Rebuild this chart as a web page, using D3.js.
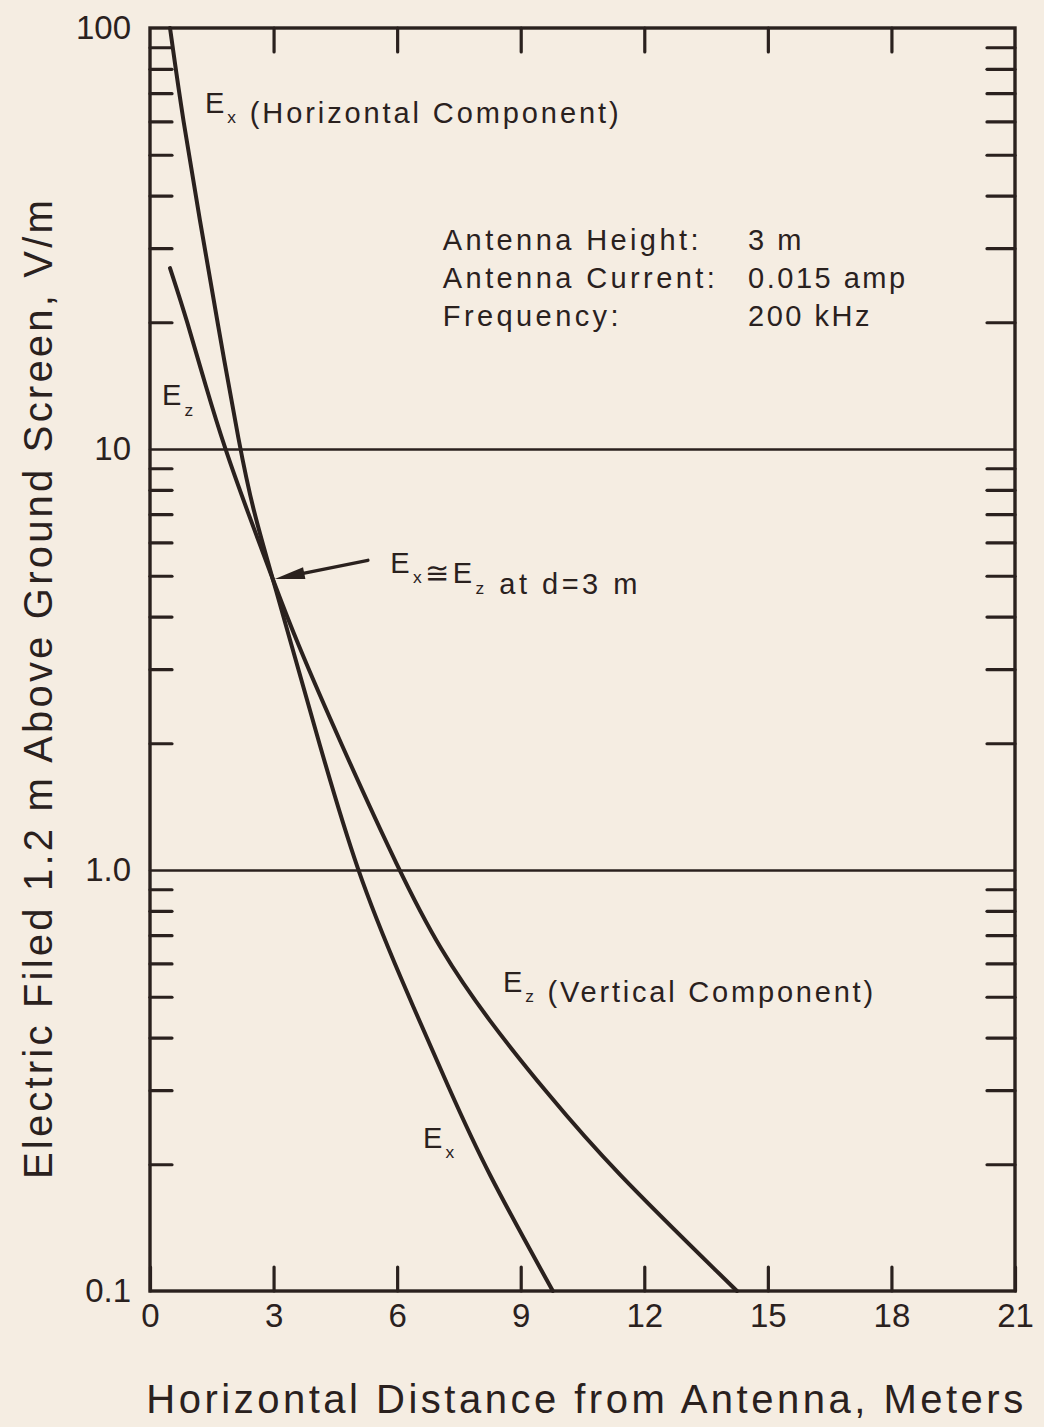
<!DOCTYPE html>
<html><head><meta charset="utf-8">
<script src="https://cdn.jsdelivr.net/npm/d3@7"></script>
<style>
html,body{margin:0;padding:0;background:#f5ede2;}
svg{display:block;}
text{font-family:"Liberation Sans", Arial, Helvetica, sans-serif; fill:#2a211e;}
</style></head><body>
<svg id="chart" width="1044" height="1427"></svg>
<script>
// ---- data ----
const exDistance = [0.486, 0.80, 1.21, 1.63, 2.185, 2.50, 2.99, 3.40, 4.08, 5.03, 6.07, 7.31, 8.13, 9.78];
const exField    = [100, 60.4, 35.0, 20.2, 10, 7.16, 4.88, 3.52, 2.04, 0.984, 0.557, 0.295, 0.196, 0.1];
const ezDistance = [0.486, 0.90, 1.36, 1.82, 2.355, 2.99, 3.54, 4.59, 6.07, 7.04, 8.21, 9.64, 11.17, 14.25];
const ezField    = [26.9, 20.2, 14.0, 10, 7.16, 4.88, 3.52, 2.04, 0.984, 0.646, 0.44, 0.295, 0.197, 0.1];
const xTicks = [0, 3, 6, 9, 12, 15, 18, 21];
const yMajor = [0.1, 1, 10, 100];
const yMajorLabels = ["0.1", "1.0", "10", "100"];
const yGrid = [1, 10];
const yMinor = [0.2,0.3,0.4,0.5,0.6,0.7,0.8,0.9, 2,3,4,5,6,7,8,9, 20,30,40,50,60,70,80,90];
const infoLabels = ["Antenna Height:", "Antenna Current:", "Frequency:"];
const infoValues = ["3 m", "0.015 amp", "200 kHz"];
const infoRows = [29.7, 24.1, 19.6];
const xTitle = "Horizontal Distance from Antenna, Meters";
const yTitle = "Electric Filed 1.2 m Above Ground Screen, V/m";

const INK = "#2a211e";
const svg = d3.select("#chart");
const L = 150, R = 1015, T = 28, B = 1291;
const x = d3.scaleLinear().domain([0, 21]).range([L, R]);
const y = d3.scaleLog().domain([0.1, 100]).range([B, T]);

function styleAxis(g, w) {
  g.select(".domain").remove();
  g.selectAll("line").attr("stroke", INK).attr("stroke-width", w).attr("stroke-linecap", "round");
  g.selectAll("text").attr("fill", INK).attr("font-family", '"Liberation Sans", Arial, sans-serif');
}

// gridlines
svg.append("g").attr("transform", `translate(${L},0)`)
  .call(d3.axisLeft(y).tickValues(yGrid).tickSize(-(R - L)).tickFormat(""))
  .call(g => styleAxis(g, 2.6));

// minor ticks
svg.append("g").attr("transform", `translate(${L},0)`)
  .call(d3.axisLeft(y).tickValues(yMinor).tickSize(-22).tickFormat(""))
  .call(g => styleAxis(g, 3.2));
svg.append("g").attr("transform", `translate(${R},0)`)
  .call(d3.axisRight(y).tickValues(yMinor).tickSize(-28).tickFormat(""))
  .call(g => styleAxis(g, 3.2));

// x ticks
svg.append("g").attr("transform", `translate(0,${B})`)
  .call(d3.axisBottom(x).tickValues(xTicks).tickSize(-24).tickPadding(13).tickFormat(d3.format("d")))
  .call(g => styleAxis(g, 3.2))
  .call(g => g.selectAll("text").attr("font-size", 33));
svg.append("g").attr("transform", `translate(0,${T})`)
  .call(d3.axisTop(x).tickValues(xTicks.slice(1, -1)).tickSize(-24).tickFormat(""))
  .call(g => styleAxis(g, 3.2));

// y labels
svg.append("g").attr("transform", `translate(${L},0)`)
  .call(d3.axisLeft(y).tickValues(yMajor).tickSize(0).tickPadding(19).tickFormat((d, i) => yMajorLabels[i]))
  .call(g => styleAxis(g, 0))
  .call(g => g.selectAll("text").attr("font-size", 33));

// frame
svg.append("rect").attr("x", L).attr("y", T).attr("width", R - L).attr("height", B - T)
  .attr("fill", "none").attr("stroke", INK).attr("stroke-width", 3.4);

// curves
const line = d3.line().x(d => x(d[0])).y(d => y(d[1])).curve(d3.curveBasis);
const exData = exDistance.map((d, i) => [d, exField[i]]);
const ezData = ezDistance.map((d, i) => [d, ezField[i]]);
[exData, ezData].forEach(data => {
  svg.append("path").attr("d", line(data)).attr("fill", "none")
    .attr("stroke", INK).attr("stroke-width", 4).attr("stroke-linecap", "round");
});

// labels with subscripts
function label(dx, dy, parts, size, spacing) {
  const t = svg.append("text").attr("x", x(dx)).attr("y", y(dy))
    .attr("font-size", size).attr("letter-spacing", spacing);
  parts.forEach(p => {
    if (p.sub) {
      t.append("tspan").attr("font-size", size * 0.6).attr("dy", size * 0.36).text(p.t);
      t.append("tspan").attr("dy", -size * 0.36).text("");
    } else {
      t.append("tspan").text(p.t);
    }
  });
  return t;
}
const FS = 29, LS = 3.1;
label(1.335, 62.8, [{t: "E"}, {t: "x", sub: true}, {t: " (Horizontal Component)"}], FS, LS - 0.2);
label(0.29, 12.7, [{t: "E"}, {t: "z", sub: true}], FS, LS);
label(5.83, 5.08, [{t: "E"}, {t: "x", sub: true}, {t: "\u2245E"}, {t: "z", sub: true}, {t: " at d=3 m"}], FS, LS + 0.4);
label(8.57, 0.513, [{t: "E"}, {t: "z", sub: true}, {t: " (Vertical Component)"}], FS, LS - 0.3);
label(6.63, 0.219, [{t: "E"}, {t: "x", sub: true}], FS, LS);

infoRows.forEach((v, i) => {
  label(7.11, v, [{t: infoLabels[i]}], FS, LS + 0.3);
  label(14.52, v, [{t: infoValues[i]}], FS, LS - 0.6);
});

// arrow
const arrowTail = [5.29, 5.44], arrowTip = [3.03, 4.91];
const ax1 = x(arrowTail[0]), ay1 = y(arrowTail[1]), ax2 = x(arrowTip[0]), ay2 = y(arrowTip[1]);
const ang = Math.atan2(ay2 - ay1, ax2 - ax1);
svg.append("line").attr("x1", ax1).attr("y1", ay1)
  .attr("x2", ax2 - 20 * Math.cos(ang)).attr("y2", ay2 - 20 * Math.sin(ang))
  .attr("stroke", INK).attr("stroke-width", 3.4).attr("stroke-linecap", "round");
const hl = 30, hw = 6;
const bx = ax2 - hl * Math.cos(ang), by = ay2 - hl * Math.sin(ang);
svg.append("path").attr("d",
  `M${ax2},${ay2}L${bx + hw * Math.sin(ang)},${by - hw * Math.cos(ang)}L${bx - hw * Math.sin(ang)},${by + hw * Math.cos(ang)}Z`)
  .attr("fill", INK);

// axis titles
svg.append("text").attr("x", (L + R) / 2 + 4).attr("y", 1413).attr("text-anchor", "middle")
  .attr("font-size", 40).attr("letter-spacing", 3.5).text(xTitle);
svg.append("text").attr("transform", `translate(52,688) rotate(-90)`).attr("text-anchor", "middle")
  .attr("font-size", 40).attr("letter-spacing", 3.2).text(yTitle);
</script>
</body></html>
